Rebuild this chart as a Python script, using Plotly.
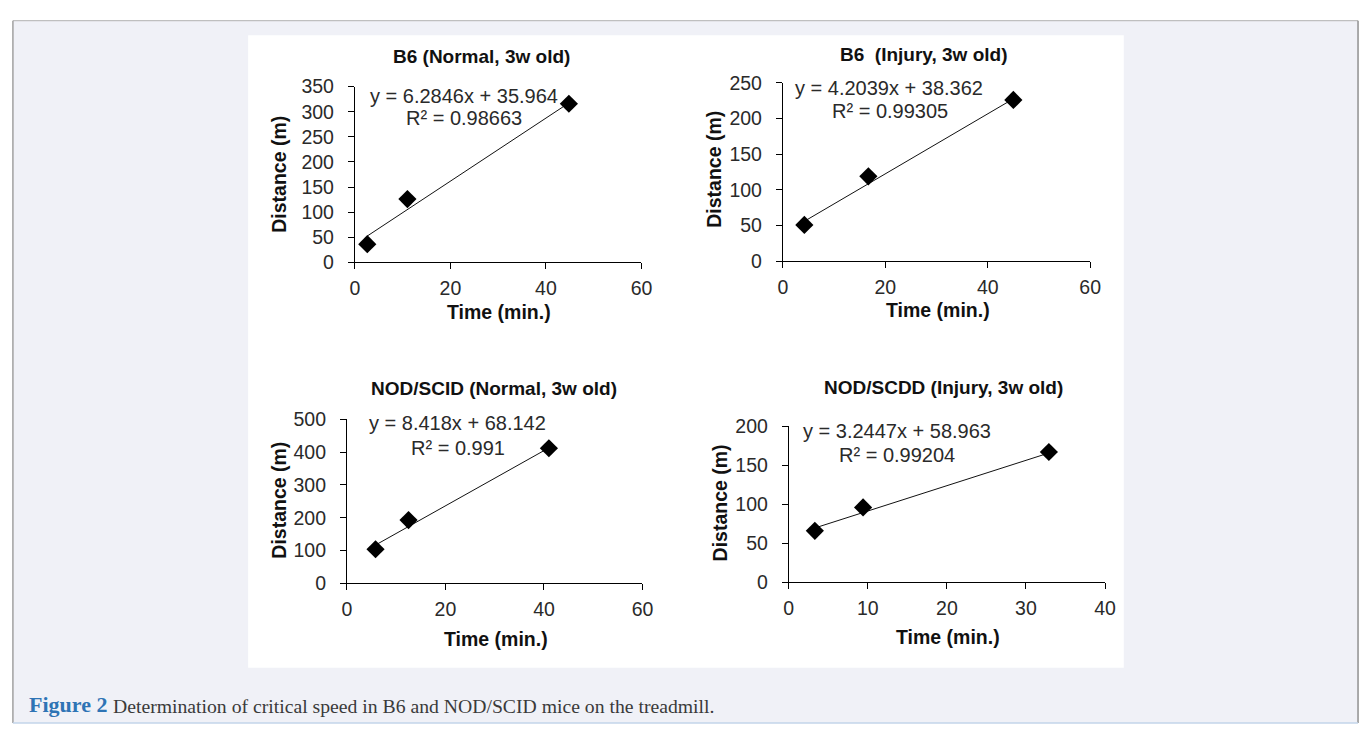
import plotly.graph_objects as go

W, H = 1372, 736

# ---------------- data ----------------
titles = ["B6 (Normal, 3w old)", "B6  (Injury, 3w old)",
          "NOD/SCID (Normal, 3w old)", "NOD/SCDD (Injury, 3w old)"]
time_b6_normal = [2.6, 11.0, 44.8]
dist_b6_normal = [36, 126, 316]
time_b6_injury = [4.2, 16.7, 45.0]
dist_b6_injury = [51, 119, 226]
time_nod_normal = [5.8, 12.5, 41.0]
dist_nod_normal = [104, 193, 412]
time_nod_injury = [3.3, 9.4, 32.9]
dist_nod_injury = [66, 96, 167]
slopes = [6.2846, 4.2039, 8.418, 3.2447]
intercepts = [35.964, 38.362, 68.142, 58.963]
r2_values = ["0.98663", "0.99305", "0.991", "0.99204"]
slope_txt = ["6.2846", "4.2039", "8.418", "3.2447"]
intercept_txt = ["35.964", "38.362", "68.142", "58.963"]
x_ranges = [[0, 60], [0, 60], [0, 60], [0, 40]]
y_ranges = [[0, 350], [0, 250], [0, 500], [0, 200]]
x_dticks = [20, 20, 20, 10]
y_dticks = [50, 50, 100, 50]
caption_bold = "Figure 2"
caption_text = "Determination of critical speed in B6 and NOD/SCID mice on the treadmill."

times = [time_b6_normal, time_b6_injury, time_nod_normal, time_nod_injury]
dists = [dist_b6_normal, dist_b6_injury, dist_nod_normal, dist_nod_injury]

# ---------------- layout geometry (pixels) ----------------
dom_px = [  # x0, x1, ytop, ybottom
    (354, 644, 78, 259),
    (787, 1098, 74, 258),
    (346, 645, 421, 590),
    (793, 1113, 428, 589),
]
title_pos = [(482, 47), (930, 45), (495, 389), (950, 388)]
eq_pos = [(464, 88), (894, 79), (458, 425), (903, 433)]
r2_pos = [(464, 110), (895, 103), (458, 450), (903, 458)]
ytitle_pos = [(277, 168), (717, 163), (277, 504), (723, 507)]
xtitle_pos = [(500, 310), (944, 308), (497, 647), (954, 645)]


def fx(x):
    return x / W


def fy(y):
    return 1 - y / H


FONT = "Liberation Sans, Arial, sans-serif"
fig = go.Figure()
annotations = []

for i in range(4):
    sfx = "" if i == 0 else str(i + 1)
    xa, ya = "x" + sfx, "y" + sfx
    t, d = times[i], dists[i]
    xs = [min(t), max(t)]
    ys = [slopes[i] * v + intercepts[i] for v in xs]
    fig.add_trace(go.Scatter(x=xs, y=ys, mode="lines",
                             line=dict(color="#111111", width=1),
                             xaxis=xa, yaxis=ya, showlegend=False,
                             hoverinfo="skip", cliponaxis=False))
    fig.add_trace(go.Scatter(x=t, y=d, mode="markers",
                             marker=dict(symbol="diamond", size=14, color="#000000"),
                             xaxis=xa, yaxis=ya, showlegend=False,
                             cliponaxis=False))
    x0, x1, yt, yb = dom_px[i]
    axis_common = dict(showline=True, linecolor="#000000", linewidth=1,
                       ticks="outside", tickcolor="#000000", ticklen=6,
                       showgrid=False, zeroline=False,
                       tickfont=dict(family=FONT, size=19.5, color="#2a2a2a"))
    fig.update_layout(**{
        "xaxis" + sfx: dict(domain=[fx(x0), fx(x1)], range=x_ranges[i],
                            dtick=x_dticks[i], tick0=0, anchor=ya,
                            ticklabelstandoff=2, **axis_common),
        "yaxis" + sfx: dict(domain=[fy(yb), fy(yt)], range=y_ranges[i],
                            dtick=y_dticks[i], tick0=0, anchor=xa,
                            ticklabelstandoff=10, **axis_common),
    })
    annotations.append(dict(text="<b>%s</b>" % titles[i], x=fx(title_pos[i][0]), y=fy(title_pos[i][1]),
                            xref="paper", yref="paper", showarrow=False,
                            xanchor="center", yanchor="middle",
                            font=dict(family=FONT, size=19, color="#111111")))
    annotations.append(dict(text="y = %sx + %s" % (slope_txt[i], intercept_txt[i]),
                            x=fx(eq_pos[i][0]), y=fy(eq_pos[i][1]),
                            xref="paper", yref="paper", showarrow=False,
                            xanchor="center", yanchor="middle",
                            font=dict(family=FONT, size=20, color="#2a2a2a")))
    annotations.append(dict(text="R² = %s" % r2_values[i],
                            x=fx(r2_pos[i][0]), y=fy(r2_pos[i][1]),
                            xref="paper", yref="paper", showarrow=False,
                            xanchor="center", yanchor="middle",
                            font=dict(family=FONT, size=20, color="#2a2a2a")))
    annotations.append(dict(text="<b>Distance (m)</b>", x=fx(ytitle_pos[i][0]), y=fy(ytitle_pos[i][1]),
                            xref="paper", yref="paper", showarrow=False, textangle=-90,
                            xanchor="center", yanchor="middle",
                            font=dict(family=FONT, size=19.5, color="#111111")))
    annotations.append(dict(text="<b>Time (min.)</b>", x=fx(xtitle_pos[i][0]), y=fy(xtitle_pos[i][1]),
                            xref="paper", yref="paper", showarrow=False,
                            xanchor="center", yanchor="middle",
                            font=dict(family=FONT, size=19.5, color="#111111")))

# caption
annotations.append(dict(
    text="<b>%s</b>" % caption_bold,
    x=fx(22), y=fy(715), xref="paper", yref="paper", showarrow=False,
    xanchor="left", yanchor="middle",
    font=dict(family="Liberation Serif, serif", size=22, color="#2e74b5")))
annotations.append(dict(
    text=caption_text,
    x=fx(107), y=fy(716), xref="paper", yref="paper", showarrow=False,
    xanchor="left", yanchor="middle",
    font=dict(family="Liberation Serif, serif", size=19.7, color="#3a3a3a")))

shapes = [
    dict(type="rect", xref="paper", yref="paper", x0=fx(8), x1=fx(1369), y0=fy(734), y1=fy(10),
         fillcolor="#f0f1f7", line=dict(width=0), layer="below"),
    dict(type="line", xref="paper", yref="paper", x0=fx(8), x1=fx(1369), y0=fy(10), y1=fy(10),
         line=dict(color="#b0b0b0", width=1), layer="below"),
    dict(type="line", xref="paper", yref="paper", x0=fx(8), x1=fx(8), y0=fy(10), y1=fy(734),
         line=dict(color="#a0a0a0", width=1.5), layer="below"),
    dict(type="line", xref="paper", yref="paper", x0=fx(1369), x1=fx(1369), y0=fy(10), y1=fy(734),
         line=dict(color="#909090", width=1.5), layer="below"),
    dict(type="line", xref="paper", yref="paper", x0=fx(8), x1=fx(1369), y0=fy(734), y1=fy(734),
         line=dict(color="#c3d5ea", width=1.5), layer="below"),
    dict(type="rect", xref="paper", yref="paper", x0=fx(246), x1=fx(1132), y0=fy(677), y1=fy(25),
         fillcolor="#ffffff", line=dict(width=0), layer="below"),
]

fig.update_layout(width=W, height=H, margin=dict(l=0, r=0, t=0, b=0),
                  paper_bgcolor="#ffffff", plot_bgcolor="rgba(0,0,0,0)",
                  annotations=annotations, shapes=shapes, showlegend=False)

fig.write_html("out.html", config={"displayModeBar": False},
               post_script="document.documentElement.style.margin='0';"
                           "document.body.style.margin='0';document.body.style.padding='0';"
                           "document.body.style.overflow='hidden';")
